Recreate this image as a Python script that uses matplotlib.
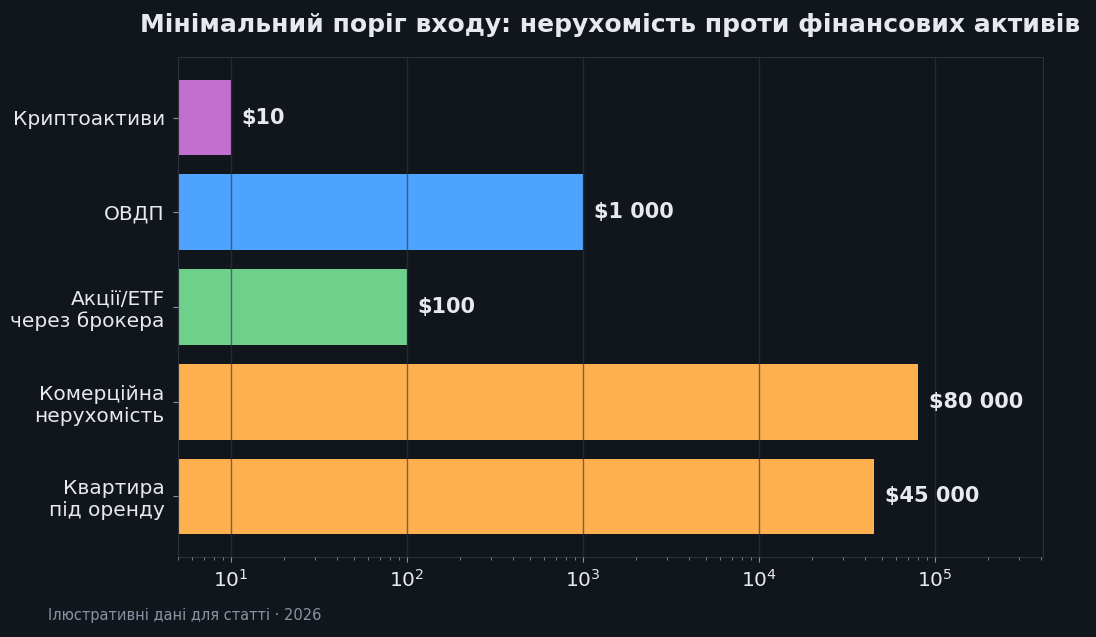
import matplotlib
matplotlib.use("Agg")
import matplotlib.pyplot as plt

categories = ["Квартира\nпід оренду", "Комерційна\nнерухомість", "Акції/ETF\nчерез брокера", "ОВДП", "Криптоактиви"]
min_entry = [45000, 80000, 100, 1000, 10]
bar_colors = ["#FFB04E", "#FFB04E", "#6FD08C", "#4EA3FF", "#C36FD0"]

BG = "#11151c"
TXT = "#e6e9ef"
EDGE = "#2c323c"


def money(v):
    return "$" + f"{v:,}".replace(",", " ")


fig, ax = plt.subplots(figsize=(10.96, 6.37), dpi=100)
fig.patch.set_facecolor(BG)
ax.set_facecolor(BG)
fig.subplots_adjust(left=0.1624, right=0.9516, top=0.9105, bottom=0.1256)

ax.barh(categories, min_entry, color=bar_colors, height=0.8, left=0)
ax.set_xscale("log")
ax.set_xlim(5, 4.1e5)

for i, v in enumerate(min_entry):
    ax.text(v * 1.15, i, money(v), va="center", ha="left", color=TXT,
            fontsize=15, fontweight="bold")

ax.set_axisbelow(False)
ax.grid(axis="x", which="major", color="#30353f", alpha=0.65, linewidth=1.0)
ax.grid(axis="y", visible=False)

for s in ax.spines.values():
    s.set_color(EDGE)
ax.tick_params(axis="both", colors="#8b93a1", labelcolor=TXT, labelsize=14.5)
ax.tick_params(axis="y", pad=6)
ax.tick_params(axis="x", pad=5)
ax.tick_params(axis="x", which="minor", colors="#8b93a1")

ax.set_title("Мінімальний поріг входу: нерухомість проти фінансових активів",
             color=TXT, fontsize=18, fontweight="bold", pad=18)
fig.text(0.044, 0.026, "Ілюстративні дані для статті · 2026", color="#8b93a1", fontsize=10.5)

fig.savefig("out.png", dpi=100, facecolor=BG)
